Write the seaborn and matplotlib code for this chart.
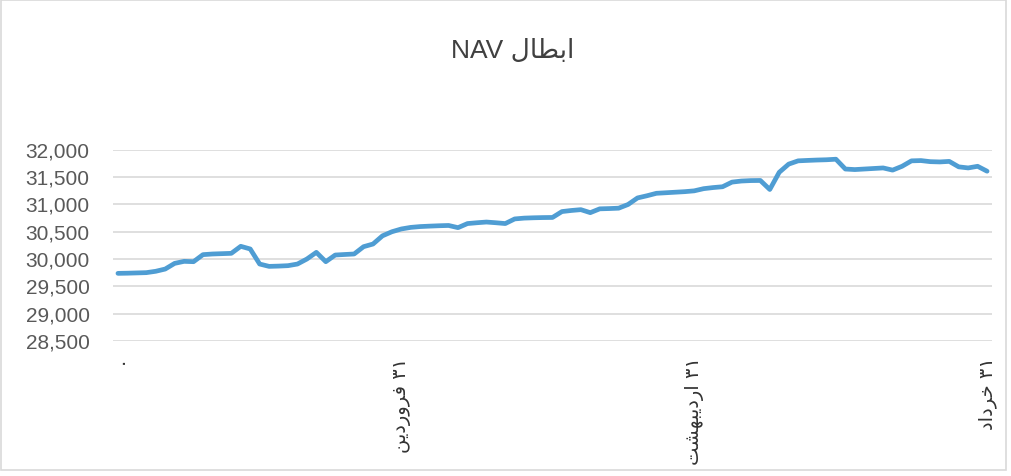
import matplotlib

matplotlib.use("Agg")
import matplotlib.pyplot as plt
import numpy as np
import pandas as pd
import seaborn as sns

#%% data (daily NAV, 1 Farvardin .. 31 Khordad)

nav = [
    29737, 29740, 29745, 29750, 29775, 29816, 29920, 29957, 29951, 30080,
    30092, 30098, 30104, 30233, 30184, 29908, 29865, 29870, 29878, 29908,
    30000, 30122, 29951, 30073, 30083, 30092, 30226, 30275, 30425, 30500,
    30551, 30580, 30595, 30603, 30610, 30615, 30575, 30650, 30665, 30678,
    30665, 30650, 30735, 30750, 30756, 30760, 30762, 30870, 30890, 30905,
    30850, 30920, 30925, 30932, 31000, 31120, 31160, 31205, 31215, 31225,
    31235, 31250, 31290, 31310, 31325, 31410, 31430, 31438, 31440, 31275,
    31590, 31740, 31800, 31808, 31815, 31820, 31830, 31650, 31640, 31650,
    31660, 31670, 31630, 31700, 31800, 31805, 31785, 31780, 31790, 31690,
    31670, 31700, 31610,
]
tick_pos = [0, 30, 61, 92]
tick_labels = [".", "۳۱ فروردین", "۳۱ اردیبهشت", "۳۱ خرداد"]
yticks = [28500, 29000, 29500, 30000, 30500, 31000, 31500, 32000]
title = "ابطال NAV"

df = pd.DataFrame({"day": np.arange(len(nav)), "nav": nav})

#%% tiny arabic shaping so matplotlib draws joined, right-to-left text

FORMS = {  # isolated, final, initial, medial
    "ا": ("\ufe8d", "\ufe8e", None, None),
    "ب": ("\ufe8f", "\ufe90", "\ufe91", "\ufe92"),
    "ت": ("\ufe95", "\ufe96", "\ufe97", "\ufe98"),
    "خ": ("\ufea5", "\ufea6", "\ufea7", "\ufea8"),
    "د": ("\ufea9", "\ufeaa", None, None),
    "ر": ("\ufead", "\ufeae", None, None),
    "ش": ("\ufeb5", "\ufeb6", "\ufeb7", "\ufeb8"),
    "ط": ("\ufec1", "\ufec2", "\ufec3", "\ufec4"),
    "ف": ("\ufed1", "\ufed2", "\ufed3", "\ufed4"),
    "ل": ("\ufedd", "\ufede", "\ufedf", "\ufee0"),
    "ن": ("\ufee5", "\ufee6", "\ufee7", "\ufee8"),
    "ه": ("\ufee9", "\ufeea", "\ufeeb", "\ufeec"),
    "و": ("\ufeed", "\ufeee", None, None),
    "ی": ("\ufbfc", "\ufbfd", "\ufbfe", "\ufbff"),
}


def shape_word(w):
    out = []
    for k, ch in enumerate(w):
        if ch not in FORMS:
            out.append(ch)
            continue
        prev = w[k - 1] if k > 0 else None
        nxt = w[k + 1] if k + 1 < len(w) else None
        jp = prev in FORMS and FORMS[prev][2] is not None
        jn = nxt in FORMS and FORMS[ch][2] is not None
        iso, fin, ini, med = FORMS[ch]
        out.append(med if jp and jn else fin if jp else ini if jn else iso)
    return "".join(out[::-1])


def rtl(s):
    words = s.split(" ")[::-1]
    return " ".join(shape_word(w) if any(c in FORMS for c in w) else w for w in words)


#%% plot

sns.set_style("white")
plt.rcParams["font.family"] = ["Liberation Sans", "DejaVu Sans"]

fig = plt.figure(figsize=(10.11, 4.76), dpi=100)
ax = fig.add_axes([0.112, 0.284, 0.869, 0.401])

sns.lineplot(data=df, x="day", y="nav", color="#4f9dd3", linewidth=3.4, ax=ax)

ax.set_ylim(28500, 32000)
ax.set_xlim(-0.5, len(nav) - 0.5)
ax.set_yticks(yticks)
ax.set_yticklabels([f"{v:,}" for v in yticks])
ax.set_xticks(tick_pos)
ax.set_xticklabels([rtl(t) for t in tick_labels], rotation=90, fontsize=14,
                   color="#333333", family="DejaVu Sans", va="top")
ax.tick_params(axis="y", length=0, pad=17, labelsize=15, labelcolor="#595959")
ax.tick_params(axis="x", length=0, pad=12)
ax.grid(axis="y", color="#d9d9d9", linewidth=1.2)
ax.set_xlabel("")
ax.set_ylabel("")
sns.despine(ax=ax, left=True, bottom=True)

fig.text(0.507, 0.893, rtl(title), ha="center", va="center", fontsize=19,
         color="#404040")

fig.patches.append(plt.Rectangle((0.001, 0.012), 0.994, 0.987, transform=fig.transFigure,
                                 fill=False, edgecolor="#d9d9d9", linewidth=1.2))

fig.savefig("out.png", dpi=100, facecolor="w")
